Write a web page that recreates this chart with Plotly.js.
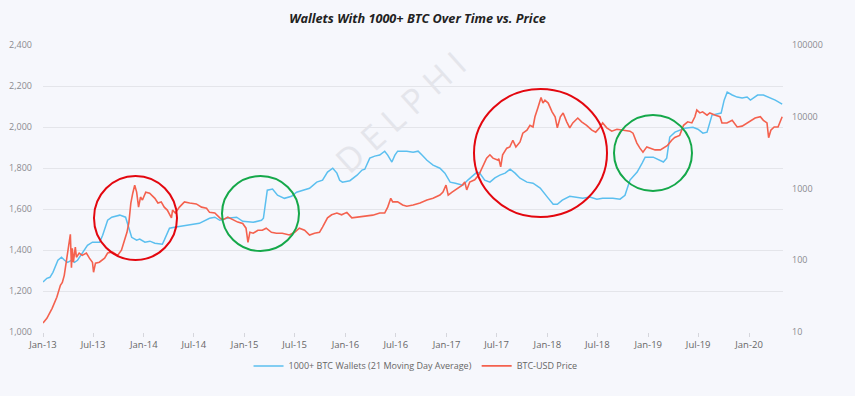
<!DOCTYPE html>
<html>
<head>
<meta charset="utf-8">
<script src="https://cdn.plot.ly/plotly-3.0.1.min.js"></script>
<style>
html,body{margin:0;padding:0;background:#f6f7fc;}
#chart{width:855px;height:396px;}
</style>
</head>
<body>
<div id="chart"></div>
<script>
// 1000+ BTC wallets (21 moving day average) - left axis
var walletDates = ["2013-01-01","2013-01-15","2013-01-26","2013-02-06","2013-02-24","2013-03-09","2013-03-20","2013-03-31","2013-04-14","2013-04-25","2013-05-06","2013-05-24","2013-06-11","2013-06-29","2013-07-25","2013-08-05","2013-08-23","2013-09-07","2013-10-06","2013-10-27","2013-11-04","2013-11-18","2013-12-06","2013-12-17","2014-01-05","2014-01-23","2014-02-10","2014-03-09","2014-03-16","2014-04-04","2014-04-22","2014-06-05","2014-07-21","2014-08-27","2014-09-15","2014-10-03","2014-10-28","2014-12-03","2014-12-25","2015-02-01","2015-03-03","2015-03-10","2015-03-24","2015-04-12","2015-04-30","2015-05-25","2015-06-20","2015-07-08","2015-07-29","2015-08-24","2015-09-19","2015-10-10","2015-10-28","2015-11-16","2015-12-01","2015-12-11","2015-12-21","2016-01-17","2016-02-12","2016-03-01","2016-03-11","2016-03-29","2016-04-16","2016-05-04","2016-05-22","2016-06-02","2016-06-17","2016-06-28","2016-07-08","2016-08-10","2016-09-02","2016-09-20","2016-10-04","2016-10-22","2016-11-13","2016-12-08","2016-12-26","2017-01-14","2017-02-02","2017-03-01","2017-03-19","2017-04-06","2017-04-21","2017-05-01","2017-05-19","2017-06-07","2017-06-25","2017-07-13","2017-08-01","2017-08-19","2017-09-06","2017-09-24","2017-10-19","2017-11-10","2017-12-06","2018-01-01","2018-01-22","2018-02-06","2018-02-24","2018-03-23","2018-04-18","2018-05-09","2018-06-04","2018-06-29","2018-07-20","2018-08-26","2018-09-21","2018-10-09","2018-10-27","2018-11-22","2018-12-10","2018-12-21","2019-01-19","2019-02-25","2019-03-09","2019-03-20","2019-04-08","2019-05-13","2019-06-12","2019-06-30","2019-07-18","2019-08-02","2019-08-20","2019-09-08","2019-09-22","2019-10-03","2019-10-14","2019-11-01","2019-11-19","2019-12-07","2019-12-25","2020-01-06","2020-02-01","2020-02-22","2020-03-10","2020-04-05","2020-04-30"];
var walletValues = [1244,1262,1267,1291,1350,1365,1350,1340,1350,1340,1350,1389,1423,1438,1438,1472,1545,1560,1570,1560,1521,1462,1448,1453,1438,1443,1433,1428,1448,1506,1511,1521,1530,1555,1560,1545,1555,1560,1540,1535,1545,1555,1692,1697,1667,1652,1662,1682,1692,1701,1731,1741,1780,1799,1775,1740,1731,1738,1765,1790,1794,1848,1858,1863,1882,1863,1829,1863,1882,1882,1877,1882,1863,1838,1814,1799,1775,1731,1726,1716,1741,1765,1780,1775,1741,1731,1752,1765,1775,1794,1775,1750,1731,1726,1702,1658,1623,1623,1643,1662,1658,1652,1658,1648,1652,1652,1648,1667,1741,1780,1824,1853,1853,1829,1848,1951,1975,1994,1999,1989,1970,1975,2058,2063,2068,2131,2170,2156,2146,2141,2146,2131,2156,2156,2146,2131,2112];

// BTC-USD price - right (log) axis
var priceDates = ["2013-01-01","2013-01-15","2013-02-03","2013-02-20","2013-03-05","2013-03-12","2013-03-19","2013-03-26","2013-04-03","2013-04-10","2013-04-14","2013-04-17","2013-04-21","2013-04-28","2013-05-02","2013-05-12","2013-05-23","2013-06-07","2013-06-18","2013-06-29","2013-07-03","2013-07-10","2013-07-24","2013-08-12","2013-08-23","2013-09-10","2013-09-28","2013-10-12","2013-10-23","2013-11-01","2013-11-08","2013-11-15","2013-11-22","2013-11-29","2013-12-06","2013-12-13","2013-12-20","2013-12-27","2014-01-08","2014-01-22","2014-02-10","2014-02-21","2014-03-05","2014-03-16","2014-03-27","2014-04-11","2014-04-15","2014-04-25","2014-05-10","2014-05-28","2014-06-16","2014-07-10","2014-07-29","2014-08-16","2014-08-27","2014-09-15","2014-10-03","2014-10-14","2014-11-01","2014-11-19","2014-12-07","2014-12-25","2015-01-06","2015-01-13","2015-01-20","2015-02-01","2015-02-18","2015-03-06","2015-03-20","2015-04-08","2015-04-26","2015-05-17","2015-06-12","2015-07-01","2015-07-18","2015-08-06","2015-08-24","2015-09-11","2015-09-29","2015-10-10","2015-10-28","2015-11-12","2015-12-01","2015-12-18","2016-01-06","2016-01-24","2016-02-11","2016-03-03","2016-04-09","2016-05-04","2016-05-22","2016-06-02","2016-06-13","2016-06-20","2016-07-08","2016-07-26","2016-08-10","2016-09-02","2016-09-27","2016-10-22","2016-11-13","2016-12-08","2016-12-19","2016-12-30","2017-01-07","2017-01-21","2017-02-09","2017-02-27","2017-03-08","2017-03-15","2017-03-26","2017-04-13","2017-04-28","2017-05-12","2017-05-26","2017-06-07","2017-06-18","2017-07-05","2017-07-09","2017-07-16","2017-07-23","2017-08-07","2017-08-18","2017-08-29","2017-09-09","2017-09-24","2017-10-04","2017-10-19","2017-10-30","2017-11-10","2017-11-17","2017-11-28","2017-12-09","2017-12-16","2017-12-23","2018-01-04","2018-01-18","2018-01-29","2018-02-06","2018-02-17","2018-02-27","2018-03-12","2018-03-23","2018-04-03","2018-04-21","2018-05-05","2018-05-23","2018-06-11","2018-06-25","2018-07-09","2018-07-20","2018-08-04","2018-08-22","2018-09-10","2018-10-02","2018-10-27","2018-11-07","2018-11-21","2018-12-02","2018-12-13","2018-12-27","2019-01-08","2019-01-26","2019-02-14","2019-03-02","2019-03-12","2019-03-27","2019-04-07","2019-04-25","2019-05-09","2019-05-24","2019-06-08","2019-06-19","2019-06-26","2019-07-07","2019-07-17","2019-08-02","2019-08-12","2019-09-01","2019-09-18","2019-09-25","2019-10-13","2019-11-01","2019-11-19","2019-12-07","2019-12-25","2020-01-05","2020-01-23","2020-02-11","2020-02-22","2020-03-06","2020-03-12","2020-03-20","2020-04-01","2020-04-15","2020-04-30"];
var priceValues = [13.4,15.5,21.4,30.5,44.7,49,61.6,91,152,230,79,147,94,152,110,126,117,126,107,94,68,91,94,107,126,130,117,138,190,245,338,627,860,1115,890,550,760,690,890,860,730,627,650,550,500,390,500,455,550,650,627,610,550,530,465,455,390,365,400,365,340,325,280,178,245,238,262,262,280,245,238,238,225,245,280,262,225,238,245,290,390,430,455,430,465,390,400,410,425,455,455,550,730,650,650,590,565,590,627,690,730,810,890,1115,810,890,1000,1115,1230,955,1230,1320,1550,2000,2650,2950,2650,2500,2600,2000,2950,3650,3800,4700,3800,4450,5900,6500,7600,7200,10000,13500,18600,15500,17000,15500,11700,10000,7000,10000,11300,8500,7000,8200,9600,8500,7600,6500,6100,7000,8200,7000,6300,6700,6500,6300,5900,4300,3650,3200,3800,3650,3450,3450,3800,4000,4700,5150,5500,7600,8500,8200,10000,12400,11300,11700,10500,11300,10500,10000,8200,8200,8900,7200,7400,8200,8500,9600,10000,8900,8200,5100,6500,7200,7200,10000];

var leftTicks = [1000,1200,1400,1600,1800,2000,2200,2400];
var rightTicks = [10,100,1000,10000,100000];
var rightTickText = ["10","100","1000","10000","100000"];

var FONT = "Open Sans, Lato, sans-serif";
var GRID = "#e4e5ea";
var TXT = "#8a8a8f";

// helpers for pixel -> paper (plot area: x 43..783, y 45..332)
function px(x){ return (x-43)/740; }
function py(y){ return (332-y)/287; }
function circle(x0,y0,x1,y1,color){
  return {type:"circle", xref:"paper", yref:"paper", x0:px(x0), x1:px(x1), y0:py(y1), y1:py(y0),
          line:{color:color, width:2}, fillcolor:"rgba(0,0,0,0)", layer:"above"};
}

var traces = [
  {x: walletDates, y: walletValues, type:"scatter", mode:"lines", name:"1000+ BTC Wallets (21 Moving Day Average)",
   line:{color:"#5bbfef", width:1.5}, yaxis:"y"},
  {x: priceDates, y: priceValues, type:"scatter", mode:"lines", name:"BTC-USD Price",
   line:{color:"#f4614e", width:1.6}, yaxis:"y2"}
];

var layout = {
  width:855, height:396,
  paper_bgcolor:"#f6f7fc", plot_bgcolor:"#f6f7fc",
  margin:{l:43, r:72, t:45, b:64},
  font:{family:FONT, color:TXT, size:9},
  showlegend:true,
  title:{text:"<b><i>Wallets With 1000+ BTC Over Time vs. Price</i></b>", font:{family:FONT, size:12.7, color:"#222"},
         x:0.4883, xref:"container", xanchor:"center", y:0.952, yref:"container", yanchor:"middle"},
  xaxis:{type:"date", range:["2013-01-01","2020-05-03"], dtick:"M6", tick0:"2013-01-01", tickformat:"%b-%y",
         showgrid:false, zeroline:false, showline:false, ticks:"outside", ticklen:4, tickcolor:"#d5d6dc",
         tickfont:{size:9.5, color:"#666"}},
  yaxis:{range:[1000,2400], tickvals:leftTicks, tickformat:",", showgrid:true, gridcolor:GRID, gridwidth:1,
         zeroline:false, showline:false, ticks:"", ticklabelstandoff:10, tickfont:{size:9, color:TXT}},
  yaxis2:{type:"log", range:[1,5], overlaying:"y", side:"right", tickvals:rightTicks, ticktext:rightTickText,
          showgrid:false, zeroline:false, showline:false, ticks:"", ticklabelstandoff:8, tickfont:{size:9, color:TXT}},
  legend:{orientation:"h", x:0.486, xref:"container", xanchor:"center", y:0.076, yref:"container", yanchor:"middle",
          font:{size:9, color:"#666"}, bgcolor:"rgba(0,0,0,0)", itemwidth:30, tracegroupgap:0},
  shapes:[
    circle(94,176,177,260,"#e3070f"),
    circle(222,176,299,251,"#15a84a"),
    circle(474,89,607,217,"#e3070f"),
    circle(614,115,692,191,"#15a84a")
  ],
  annotations:[
    {text:"D E L P H I", xref:"paper", yref:"paper", x:px(400), y:py(112), xanchor:"center", yanchor:"middle",
     showarrow:false, textangle:-42, font:{family:FONT, size:34, color:"#e4e5eb"}},
    {text:"<i>Source: Glassnode</i>", xref:"container", yref:"container", x:29/855, y:1-379/396, xanchor:"left", yanchor:"middle",
     showarrow:false, font:{family:FONT, size:7, color:"#888"}},
    {text:"16", xref:"container", yref:"container", x:826/855, y:1-384/396, xanchor:"center", yanchor:"middle",
     showarrow:false, font:{family:FONT, size:9, color:"#555"}}
  ],
  hovermode:false
};

Plotly.newPlot("chart", traces, layout, {staticPlot:true, displayModeBar:false});
</script>
</body>
</html>
